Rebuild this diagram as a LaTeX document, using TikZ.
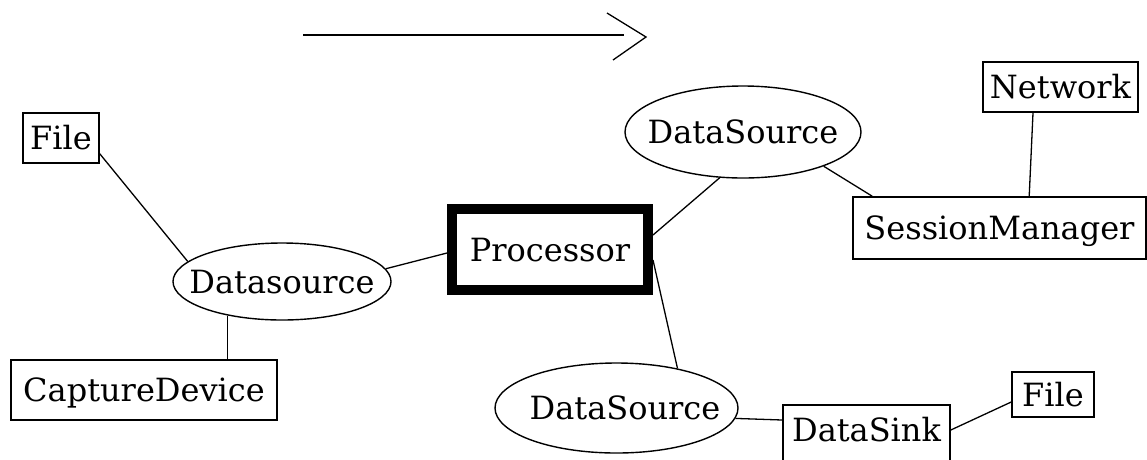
\documentclass[tikz,border=0pt]{standalone}
\usepackage{fontspec}
\setmainfont{DejaVu Serif}
\usetikzlibrary{shapes.geometric}
\begin{document}
\begin{tikzpicture}[x=1pt,y=-1pt,
  lbl/.style={font=\fontsize{32}{38}\selectfont, text height=23pt, text depth=0pt, inner sep=0pt},
  box/.style={lbl, draw, line width=1.6pt, rectangle},
  oval/.style={lbl, draw, line width=1.4pt, ellipse},
  conn/.style={line width=1.3pt}]
\useasboundingbox (0,0) rectangle (1147,459);
\clip (0,0) rectangle (1147,459);

\node[box, minimum width=76pt, minimum height=50pt] (fileL) at (61,138) {File};
\node[box, minimum width=266pt, minimum height=60pt] (capture) at (144,390) {CaptureDevice};
\node[oval, minimum width=218pt, minimum height=77pt] (dsL) at (282,281.5) {\makebox[0pt]{Datasource}};
\node[box, line width=10pt, minimum width=196pt, minimum height=81pt] (proc) at (550,249.5) {Processor};
\node[oval, minimum width=236pt, minimum height=92pt] (dsT) at (743,132) {\makebox[0pt]{DataSource}};
\node[box, minimum width=155pt, minimum height=50pt] (network) at (1060.5,87) {Network};
\node[box, minimum width=293pt, minimum height=62pt] (session) at (999.5,228) {SessionManager};
\node[oval, minimum width=243pt, minimum height=90pt] (dsB) at (616.5,408) {\makebox[0pt]{\hspace{17pt}DataSource}};
\node[box, anchor=north, text height=37pt, text depth=50pt, minimum width=167pt] (dsink) at (866.5,404) {DataSink};
\node[box, minimum width=82pt, minimum height=45pt] (fileR) at (1053,394.5) {File};

\coordinate (a1) at (303,35);
\coordinate (a2) at (624,35);
\coordinate (tip) at (646,37);
\coordinate (b1) at (607,13);
\coordinate (b2) at (613,60);
\draw[conn] (a1) -- (a2);
\draw[conn] (b1) -- (tip) -- (b2);

\draw[conn] ([yshift=10pt]fileL.south east) -- (dsL.168);
\draw[conn] (dsL.212) -- (dsL.212 |- capture.north);
\draw[conn] (dsL.7.5) -- ([yshift=-3.5pt]proc.west);
\draw[conn] ([yshift=14.5pt]proc.east) -- (dsT.243);
\draw[conn] ([yshift=-10.5pt]proc.east) -- (dsB.33);
\draw[conn] (dsT.337) -- ([xshift=20pt]session.north west);
\draw[conn] ([xshift=-27.5pt]network.south) -- ([xshift=177pt]session.north west);
\draw[conn] (dsB.355) -- ([yshift=-16pt]dsink.north west);
\draw[conn] ([yshift=-26pt]dsink.north east) -- ([yshift=-7.5pt]fileR.west);
\end{tikzpicture}
\end{document}
